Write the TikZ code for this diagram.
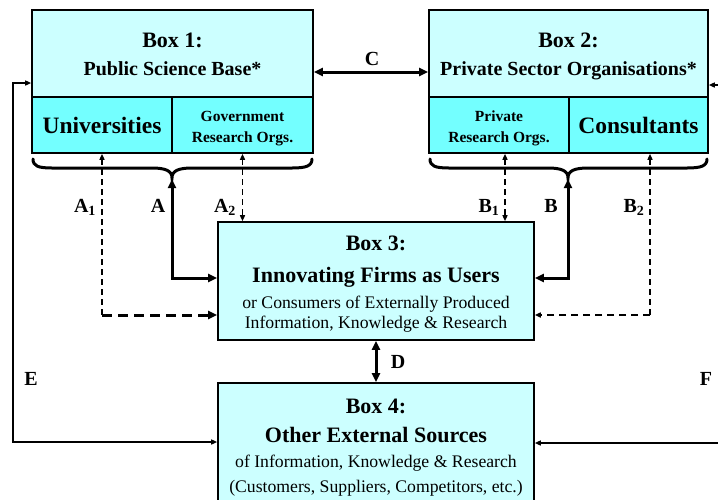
\documentclass[tikz,border=0pt]{standalone}
\usepackage{fontspec}
\setmainfont{Liberation Serif}
\usetikzlibrary{arrows.meta}
\definecolor{topc}{RGB}{204,255,255}
\definecolor{subc}{RGB}{115,255,255}
\begin{document}
\begin{tikzpicture}[x=1pt,y=-1pt,
  box/.style={draw=black,line width=1.6pt,inner sep=0pt,fill=topc},
  subbox/.style={box,fill=subc},
  txt/.style={anchor=base,inner sep=0pt},
  ttl/.style={txt,font=\fontsize{22}{26}\selectfont\bfseries},
  subt/.style={txt,font=\fontsize{20}{24}\selectfont\bfseries},
  big/.style={txt,font=\fontsize{23.5}{28}\selectfont\bfseries},
  small/.style={txt,font=\fontsize{15.5}{19}\selectfont\bfseries},
  plain/.style={txt,font=\fontsize{17.7}{21}\selectfont},
  lbl/.style={txt,font=\fontsize{20}{24}\selectfont\bfseries},
  thk/.style={line width=3pt},
  thn/.style={line width=1.4pt},
  dsh/.style={line width=1.4pt,dash pattern=on 6pt off 4pt},
  dshthk/.style={line width=3pt,dash pattern=on 10pt off 6pt},
  dshmed/.style={line width=2pt,dash pattern=on 7pt off 5pt},
  big tip/.tip={Triangle[length=9pt,width=8pt]},
  sm tip/.tip={Triangle[length=6pt,width=5pt]},
]
\useasboundingbox (0,0) rectangle (718,499);
\clip (0,0) rectangle (718,499);

% Boxes
\node[box,minimum width=281pt,minimum height=87pt] (b1) at (172.5,53.5) {};
\node[subbox,minimum width=140pt,minimum height=56pt] (uni) at (102,125) {};
\node[subbox,minimum width=141pt,minimum height=56pt] (gov) at (242.5,125) {};
\node[box,minimum width=279pt,minimum height=87pt] (b2) at (568.5,53.5) {};
\node[subbox,minimum width=140pt,minimum height=56pt] (pro) at (499,125) {};
\node[subbox,minimum width=139pt,minimum height=56pt] (con) at (638.5,125) {};
\node[box,minimum width=316pt,minimum height=118pt] (b3) at (376,281) {};
\node[box,minimum width=316pt,minimum height=147pt] (b4) at (376,456.5) {};

% Box texts
\node[ttl] (b1t1) at (172.5,47) {Box 1:};
\node[subt] (b1t2) at (172.5,75) {Public Science Base*};
\node[big] (unit) at (102,133) {Universities};
\node[small] (govt1) at (242.5,121) {Government};
\node[small] (govt2) at (242.5,142) {Research Orgs.};
\node[ttl] (b2t1) at (568.5,47) {Box 2:};
\node[subt] (b2t2) at (568.5,75) {Private Sector Organisations*};
\node[small] (prot1) at (499,121) {Private};
\node[small] (prot2) at (499,142) {Research Orgs.};
\node[big] (cont) at (638.5,133) {Consultants};
\node[ttl] (b3t1) at (376,250) {Box 3:};
\node[ttl] (b3t2) at (376,282) {Innovating Firms as Users};
\node[plain] (b3t3) at (376,308) {or Consumers of Externally Produced};
\node[plain] (b3t4) at (376,328.5) {Information, Knowledge \& Research};
\node[ttl] (b4t1) at (376,413) {Box 4:};
\node[ttl] (b4t2) at (376,442) {Other External Sources};
\node[plain] (b4t3) at (376,467) {of Information, Knowledge \& Research};
\node[plain] (b4t4) at (376,492) {(Customers, Suppliers, Competitors, etc.)};

% Braces
\draw[thk,line cap=round] (33,159) .. controls (33,166) and (38,168) .. (52,168)
  -- (152,168) .. controls (166,168) and (172,171) .. (172,178)
  .. controls (172,171) and (178,168) .. (192,168)
  -- (292,168) .. controls (306,168) and (312,166) .. (312,159);
\draw[thk,line cap=round] (430,159) .. controls (430,166) and (435,168) .. (449,168)
  -- (548,168) .. controls (562,168) and (568,171) .. (568,178)
  .. controls (568,171) and (574,168) .. (588,168)
  -- (687,168) .. controls (701,168) and (707,166) .. (707,159);

% Coordinates
\coordinate (tipA) at (172,179);
\coordinate (tipB) at (568,179);
\coordinate (yA) at (0,278);
\coordinate (a1c) at (102,315);
\coordinate (b2c) at (650,315);
\coordinate (cy) at (0,72);
\coordinate (eTop) at (13,83);
\coordinate (eBot) at (13,442);
\coordinate (fTop) at (728,85);
\coordinate (fBot) at (728,443);

% Connectors
\draw[thk,{big tip}-{big tip}] (tipA) |- (b3.west |- yA);
\draw[thk,{big tip}-{big tip}] (tipB) |- (b3.east |- yA);
\draw[dsh,{sm tip}-] (uni.south) -- (a1c);
\draw[dshthk,-{big tip}] (a1c) -- (b3.west |- a1c);
\draw[dsh,{sm tip}-{sm tip}] (gov.south) -- (b3.north -| gov.south);
\draw[dsh,{sm tip}-{sm tip}] ([xshift=6pt]pro.south) -- (b3.north -| 505,0);
\draw[dsh,{sm tip}-] ([xshift=11.5pt]con.south) -- (b2c);
\draw[dshmed,-{sm tip}] (b2c) -- (b3.east |- b2c);
\draw[thk,{big tip}-{big tip}] (b1.east |- cy) -- (b2.west |- cy);
\draw[thk,{big tip}-{big tip}] (b3.south) -- (b4.north);
\draw[thn,{sm tip}-{sm tip}] (b1.west |- eTop) -- (eTop) -- (eBot) -- (b4.west |- eBot);
\draw[thn,{sm tip}-{sm tip}] (b2.east |- fTop) -- (fTop) -- (fBot) -- (b4.east |- fBot);

% Labels
\node[lbl] (lA1) at (85,212) {A\textsubscript{1}};
\node[lbl] (lA) at (158,212) {A};
\node[lbl] (lA2) at (225,212) {A\textsubscript{2}};
\node[lbl] (lB1) at (489,212) {B\textsubscript{1}};
\node[lbl] (lB) at (551,212) {B};
\node[lbl] (lB2) at (634,212) {B\textsubscript{2}};
\node[lbl] (lC) at (372,65) {C};
\node[lbl] (lD) at (398,368) {D};
\node[lbl] (lE) at (31,385) {E};
\node[lbl] (lF) at (706,385) {F};
\end{tikzpicture}
\end{document}
